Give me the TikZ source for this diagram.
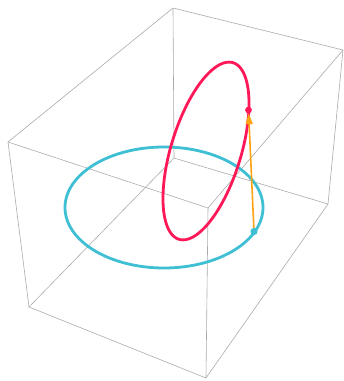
\documentclass[tikz,border=0pt]{standalone}
\usepackage{xcolor}
\usepackage{tikz}
\usetikzlibrary{
  arrows.meta,
  calc
}
\definecolor{boxgrey}{HTML}{ABABAB}
\definecolor{ringcyan}{HTML}{3EBFD3}
\definecolor{loopred}{HTML}{FF1858}
\definecolor{vecorange}{HTML}{FFA312}
\tikzset{
  boxedge/.style={
    draw=boxgrey, line width=0.6pt
  },
  ringline/.style={
    draw=#1, line width=2.8pt
  },
  pointdot/.style={
    fill=#1, draw=none
  },
  vecarrow/.style={
    -{Triangle[length=11pt,width=7pt]}, line width=1.6pt, color=vecorange,
    shorten >=3.2pt, shorten <=1pt
  },
}

\begin{document}
\begin{tikzpicture}[x=1pt, y=-1pt]
  \useasboundingbox (0,0) rectangle (344,381);

  % box corners, top face then bottom face
  \coordinate (tb) at (173,8);
  \coordinate (tr) at (343,50);
  \coordinate (tf) at (208,208);
  \coordinate (tl) at (8,142);
  \coordinate (bb) at (174,158);
  \coordinate (br) at (328,204);
  \coordinate (bf) at (206,378);
  \coordinate (bl) at (29,307);

  \draw[boxedge] (tb) -- (tr) -- (tf) -- (tl) -- cycle;
  \draw[boxedge] (bb) -- (br) -- (bf) -- (bl) -- cycle;
  \foreach \c in {b,r,f,l}
    \draw[boxedge] (t\c) -- (b\c);

  % horizontal ring and tilted loop
  \coordinate (ringc) at (164,207.5);
  \coordinate (loopc) at (206,151);
  \draw[ringline=ringcyan] (ringc) ellipse (99 and 60.5);
  \draw[ringline=loopred] plot[domain=0:360, samples=120, smooth cycle, variable=\t]
    ({206+27*cos(\t)+33.5*sin(\t)}, {151-88.3*cos(\t)+10.2*sin(\t)});

  \coordinate (pcyan) at (254,231.5);
  \coordinate (pred) at (248.5,110);
  \draw[vecarrow] (pcyan) -- (pred);
  \fill[pointdot=ringcyan] (pcyan) circle (3.6);
  \fill[pointdot=loopred] (pred) circle (3.4);
\end{tikzpicture}
\end{document}
